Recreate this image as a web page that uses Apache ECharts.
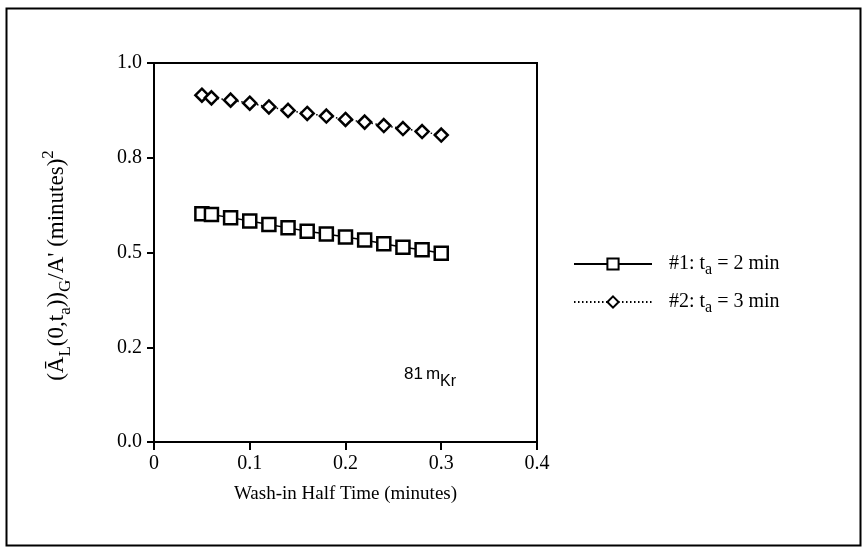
<!DOCTYPE html>
<html>
<head>
<meta charset="utf-8">
<script src="https://cdn.jsdelivr.net/npm/echarts@6/dist/echarts.min.js"></script>
<style>
  html, body { margin: 0; padding: 0; background: #fff; }
  #chart { width: 863px; height: 548px; }
</style>
</head>
<body>
<div id="chart"></div>
<script>
// wash-in half time (minutes)
const washIn = [0.05, 0.06, 0.08, 0.10, 0.12, 0.14, 0.16, 0.18, 0.20, 0.22, 0.24, 0.26, 0.28, 0.30];
// #1: ta = 2 min
const run1 = [0.602, 0.600, 0.592, 0.583, 0.574, 0.565, 0.556, 0.549, 0.541, 0.533, 0.523, 0.514, 0.507, 0.498];
// #2: ta = 3 min
const run2 = [0.915, 0.908, 0.902, 0.894, 0.884, 0.875, 0.867, 0.860, 0.851, 0.844, 0.835, 0.827, 0.819, 0.810];
const yTickLabels = ["0.0", "0.2", "0.5", "0.8", "1.0"];
const xTickLabels = ["0", "0.1", "0.2", "0.3", "0.4"];

const serif = "'Liberation Serif', 'DejaVu Serif', serif";
const sans = "'Liberation Sans', Arial, sans-serif";

const chart = echarts.init(document.getElementById("chart"));

const pair = (ys) => washIn.map((x, i) => [x, ys[i]]);

const option = {
  animation: false,
  backgroundColor: "#fff",
  textStyle: { fontFamily: serif, color: "#000" },
  grid: {
    left: 154, top: 63, right: 326, bottom: 106,
    show: true, borderColor: "#000", borderWidth: 2, backgroundColor: "transparent"
  },
  xAxis: {
    type: "value", min: 0, max: 0.4, interval: 0.1,
    splitLine: { show: false },
    axisLine: { lineStyle: { color: "#000", width: 2 } },
    axisTick: { length: 8, lineStyle: { color: "#000", width: 2 } },
    axisLabel: {
      color: "#000", fontFamily: serif, fontSize: 20, margin: 12,
      formatter: (v) => xTickLabels[Math.round(v / 0.1)]
    },
    name: "Wash-in Half Time (minutes)",
    nameLocation: "middle", nameGap: 43,
    nameTextStyle: { color: "#000", fontFamily: serif, fontSize: 19 }
  },
  yAxis: {
    type: "value", min: 0, max: 1, interval: 0.25,
    splitLine: { show: false },
    axisLine: { lineStyle: { color: "#000", width: 2 } },
    axisTick: { length: 7, lineStyle: { color: "#000", width: 2 } },
    axisLabel: {
      color: "#000", fontFamily: serif, fontSize: 20, margin: 12,
      formatter: (v) => yTickLabels[Math.round(v / 0.25)]
    },
    name: "(Ā{sub|L}(0,t{sub|a})){sub|G}/A' (minutes){sup|2}",
    nameLocation: "middle", nameGap: 80,
    nameTextStyle: {
      color: "#000", fontFamily: serif, fontSize: 23, lineHeight: 34,
      padding: [0, 26, 0, 0],
      rich: {
        sub: { fontFamily: serif, fontSize: 17, verticalAlign: "bottom", lineHeight: 34 },
        sup: { fontFamily: serif, fontSize: 17, verticalAlign: "top", lineHeight: 34 }
      }
    }
  },
  legend: {
    orient: "vertical",
    left: 568, top: 249,
    itemWidth: 78, itemHeight: 14, itemGap: 14,
    textStyle: {
      color: "#000", fontFamily: serif, fontSize: 20, padding: [0, 0, 0, 12],
      rich: {
        sub: { fontFamily: serif, fontSize: 16, verticalAlign: "bottom", lineHeight: 28 }
      }
    },
    formatter: (name) => name === "run1" ? "#1: t{sub|a} = 2 min" : "#2: t{sub|a} = 3 min",
    data: ["run1", "run2"]
  },
  series: [
    {
      name: "run1", type: "line", data: pair(run1),
      symbol: "rect", symbolSize: 13,
      itemStyle: { color: "#fff", borderColor: "#000", borderWidth: 2.5 },
      lineStyle: { color: "#000", width: 1.5, type: "solid" }
    },
    {
      name: "run2", type: "line", data: pair(run2),
      symbol: "diamond", symbolSize: 13,
      itemStyle: { color: "#fff", borderColor: "#000", borderWidth: 2.5 },
      lineStyle: { color: "#000", width: 1.5, type: [1.5, 2.5] }
    }
  ],
  graphic: [
    {
      type: "rect", left: 4, top: 6, silent: true,
      shape: { width: 854, height: 537 },
      style: { fill: "none", stroke: "#000", lineWidth: 2 }
    },
    {
      type: "text", left: 404, top: 366, silent: true,
      style: {
        text: "81{m|m}{kr|Kr}",
        font: "17px " + sans, fill: "#000",
        rich: {
          m: { font: "17px " + sans, fill: "#000", padding: [0, 0, 0, 3] },
          kr: { font: "16px " + sans, fill: "#000", verticalAlign: "bottom", lineHeight: 30 }
        }
      }
    }
  ]
};

chart.setOption(option);
</script>
</body>
</html>
